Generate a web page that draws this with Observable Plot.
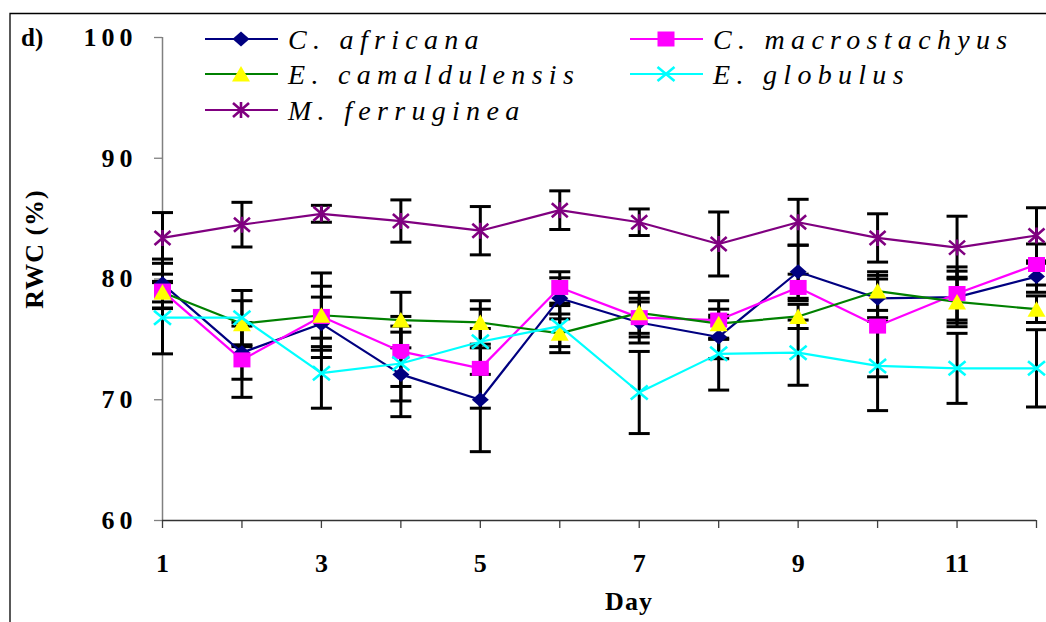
<!DOCTYPE html>
<html>
<head>
<meta charset="utf-8">
<script src="https://cdn.jsdelivr.net/npm/d3@7"></script>
<script src="https://cdn.jsdelivr.net/npm/@observablehq/plot@0.6"></script>
<style>
  body { margin: 0; background: #fff; }
  #chart { position: relative; width: 1046px; height: 622px; overflow: hidden; }
  #chart svg { position: absolute; left: 0; top: 0; font-family: "Liberation Serif", "Times New Roman", Times, serif; }
  #chart svg text { font-family: "Liberation Serif", "Times New Roman", Times, serif; }
  .yaxis text { letter-spacing: 5px; }
</style>
</head>
<body>
<div id="chart"></div>
<script>
// Relative water content (%) of five species over 12 days, mean ± SE
const days = [1, 2, 3, 4, 5, 6, 7, 8, 9, 10, 11, 12];
const yTicks = [60, 70, 80, 90, 100];
const xTickLabels = [1, 3, 5, 7, 9, 11];

const speciesNames = ["C. africana", "C. macrostachyus", "E. camaldulensis", "E. globulus", "M. ferruginea"];
const lineColors   = ["#000080", "#FF00FF", "#008000", "#00FFFF", "#800080"];
const markerColors = ["#000080", "#FF00FF", "#FFFF00", "#00FFFF", "#800080"];

const africanaRWC = [79.6, 73.9, 76.3, 72.1, 70.0, 78.4, 76.4, 75.2, 80.6, 78.4, 78.5, 80.2];
const africanaSE  = [2.05, 2.2, 2.2, 3.5, 4.3, 1.7, 1.7, 1.8, 2.2, 1.6, 2.15, 1.3];

const macrostachyusRWC = [79.0, 73.3, 76.9, 74.0, 72.6, 79.3, 76.8, 76.6, 79.3, 76.1, 78.8, 81.2];
const macrostachyusSE  = [1.4, 3.1, 2.5, 2.9, 3.3, 1.3, 1.6, 1.6, 1.1, 4.2, 2.2, 1.7];

const camaldulensisRWC = [78.9, 76.3, 77.0, 76.6, 76.4, 75.5, 77.2, 76.3, 76.9, 79.0, 78.1, 77.5];
const camaldulensisSE  = [0.8, 1.9, 3.5, 2.3, 1.8, 1.6, 1.7, 1.2, 1.0, 1.6, 2.05, 1.1];

const globulusRWC = [76.8, 76.8, 72.2, 73.0, 74.8, 76.1, 70.6, 73.8, 73.9, 72.8, 72.6, 72.6];
const globulusSE  = [3.0, 2.25, 2.9, 3.1, 2.7, 1.7, 3.4, 3.0, 2.7, 3.7, 2.9, 3.2];

const ferrugineaRWC = [83.4, 84.5, 85.4, 84.8, 84.0, 85.7, 84.7, 82.9, 84.7, 83.4, 82.6, 83.6];
const ferrugineaSE  = [2.1, 1.85, 0.7, 1.75, 2.0, 1.6, 1.1, 2.65, 1.9, 2.0, 2.6, 2.3];

const seriesValues = [africanaRWC, macrostachyusRWC, camaldulensisRWC, globulusRWC, ferrugineaRWC];
const seriesErrors = [africanaSE, macrostachyusSE, camaldulensisSE, globulusSE, ferrugineaSE];

const serif = "'Liberation Serif', 'Times New Roman', Times, serif";

// Marker shapes (pixel space)
const diamond = {draw(c) { c.moveTo(0, -7.5); c.lineTo(8.5, 0); c.lineTo(0, 7.5); c.lineTo(-8.5, 0); c.closePath(); }};
const square = {draw(c) { c.rect(-8.5, -7.5, 17, 15); }};
const triangle = {draw(c) { c.moveTo(0, -8); c.lineTo(9, 7.5); c.lineTo(-9, 7.5); c.closePath(); }};
const cross = {draw(c) { c.moveTo(-8.5, -7); c.lineTo(8.5, 7); c.moveTo(-8.5, 7); c.lineTo(8.5, -7); }};
const star = {draw(c) { c.moveTo(-8, -7); c.lineTo(8, 7); c.moveTo(-8, 7); c.lineTo(8, -7); c.moveTo(0, -8); c.lineTo(0, 8); }};
const cap = {draw(c) { c.moveTo(-10.5, 0); c.lineTo(10.5, 0); }};

const markerSymbols = [diamond, square, triangle, cross, star];
const filledMarker = [true, true, true, false, false];

const rows = speciesNames.flatMap((name, s) =>
  days.map((day, i) => ({series: name, idx: s, day, value: seriesValues[s][i], err: seriesErrors[s][i]}))
);

const errMarks = [
  Plot.ruleX(rows, {x: "day", y1: d => d.value - d.err, y2: d => d.value + d.err, stroke: "#000", strokeWidth: 3}),
  Plot.dot(rows, {x: "day", y: d => d.value + d.err, symbol: cap, fill: "none", stroke: "#000", strokeWidth: 3}),
  Plot.dot(rows, {x: "day", y: d => d.value - d.err, symbol: cap, fill: "none", stroke: "#000", strokeWidth: 3})
];

const lineMarks = speciesNames.map((name, s) =>
  Plot.line(rows.filter(d => d.idx === s), {x: "day", y: "value", stroke: lineColors[s], strokeWidth: 2.2})
);

const dotMarks = speciesNames.map((name, s) =>
  Plot.dot(rows.filter(d => d.idx === s), filledMarker[s]
    ? {x: "day", y: "value", symbol: markerSymbols[s], fill: markerColors[s], stroke: "none"}
    : {x: "day", y: "value", symbol: markerSymbols[s], fill: "none", stroke: markerColors[s], strokeWidth: 2.6})
);

const chart = Plot.plot({
  width: 1046,
  height: 622,
  marginTop: 37,
  marginBottom: 102,
  marginLeft: 162,
  marginRight: 10,
  style: {fontFamily: serif, background: "transparent", color: "#000"},
  x: {domain: [days[0], days[days.length - 1]]},
  y: {domain: [yTicks[0], yTicks[yTicks.length - 1]]},
  marks: [
    Plot.axisY({ticks: yTicks, tickSize: 8, tickPadding: 17, fontSize: 26, fontWeight: "bold", fontFamily: serif,
                stroke: "#808080", strokeWidth: 1.3, fill: "#000", label: null, className: "yaxis"}),
    Plot.axisX({ticks: days, tickSize: 8, tickPadding: 25, fontSize: 26, fontWeight: "bold", fontFamily: serif,
                tickFormat: d => xTickLabels.includes(d) ? String(d) : "",
                stroke: "#404040", strokeWidth: 1.3, fill: "#000", label: null}),
    Plot.ruleX([days[0]], {stroke: "#808080", strokeWidth: 1.5}),
    Plot.ruleY([yTicks[0]], {stroke: "#333", strokeWidth: 1.5}),
    ...errMarks,
    ...lineMarks,
    ...dotMarks
  ]
});
document.getElementById("chart").appendChild(chart);

// Panel frame, panel letter, axis titles and the in-plot legend
const overlay = d3.select("#chart").append("svg")
  .attr("width", 1046).attr("height", 622);

overlay.append("path").attr("d", "M10,622V13.5H1046").attr("fill", "none").attr("stroke", "#000").attr("stroke-width", 1.3);

overlay.append("text").attr("x", 21).attr("y", 46).attr("font-size", 25).attr("font-weight", "bold").text("d)");

overlay.append("text").attr("transform", "translate(43,249) rotate(-90)")
  .attr("text-anchor", "middle").attr("font-size", 26).attr("font-weight", "bold")
  .attr("letter-spacing", "1px").text("RWC (%)");

overlay.append("text").attr("x", 629).attr("y", 610)
  .attr("text-anchor", "middle").attr("font-size", 26).attr("font-weight", "bold")
  .attr("letter-spacing", "1px").text("Day");

const legendSlots = [
  {x: 205, y: 39}, {x: 630, y: 39},
  {x: 205, y: 74}, {x: 630, y: 74},
  {x: 205, y: 110}
];
speciesNames.forEach((name, s) => {
  const p = legendSlots[s];
  const g = overlay.append("g");
  g.append("line").attr("x1", p.x).attr("x2", p.x + 73).attr("y1", p.y).attr("y2", p.y)
    .attr("stroke", lineColors[s]).attr("stroke-width", 2.2);
  const path = g.append("path").attr("transform", `translate(${p.x + 36},${p.y})`)
    .attr("d", d3.symbol(markerSymbols[s])());
  if (filledMarker[s]) path.attr("fill", markerColors[s]);
  else path.attr("fill", "none").attr("stroke", markerColors[s]).attr("stroke-width", 2.6);
  g.append("text").attr("x", p.x + 83).attr("y", p.y + 10)
    .attr("font-size", 28).attr("font-style", "italic").attr("letter-spacing", "6.3px")
    .text(name);
});
</script>
</body>
</html>
